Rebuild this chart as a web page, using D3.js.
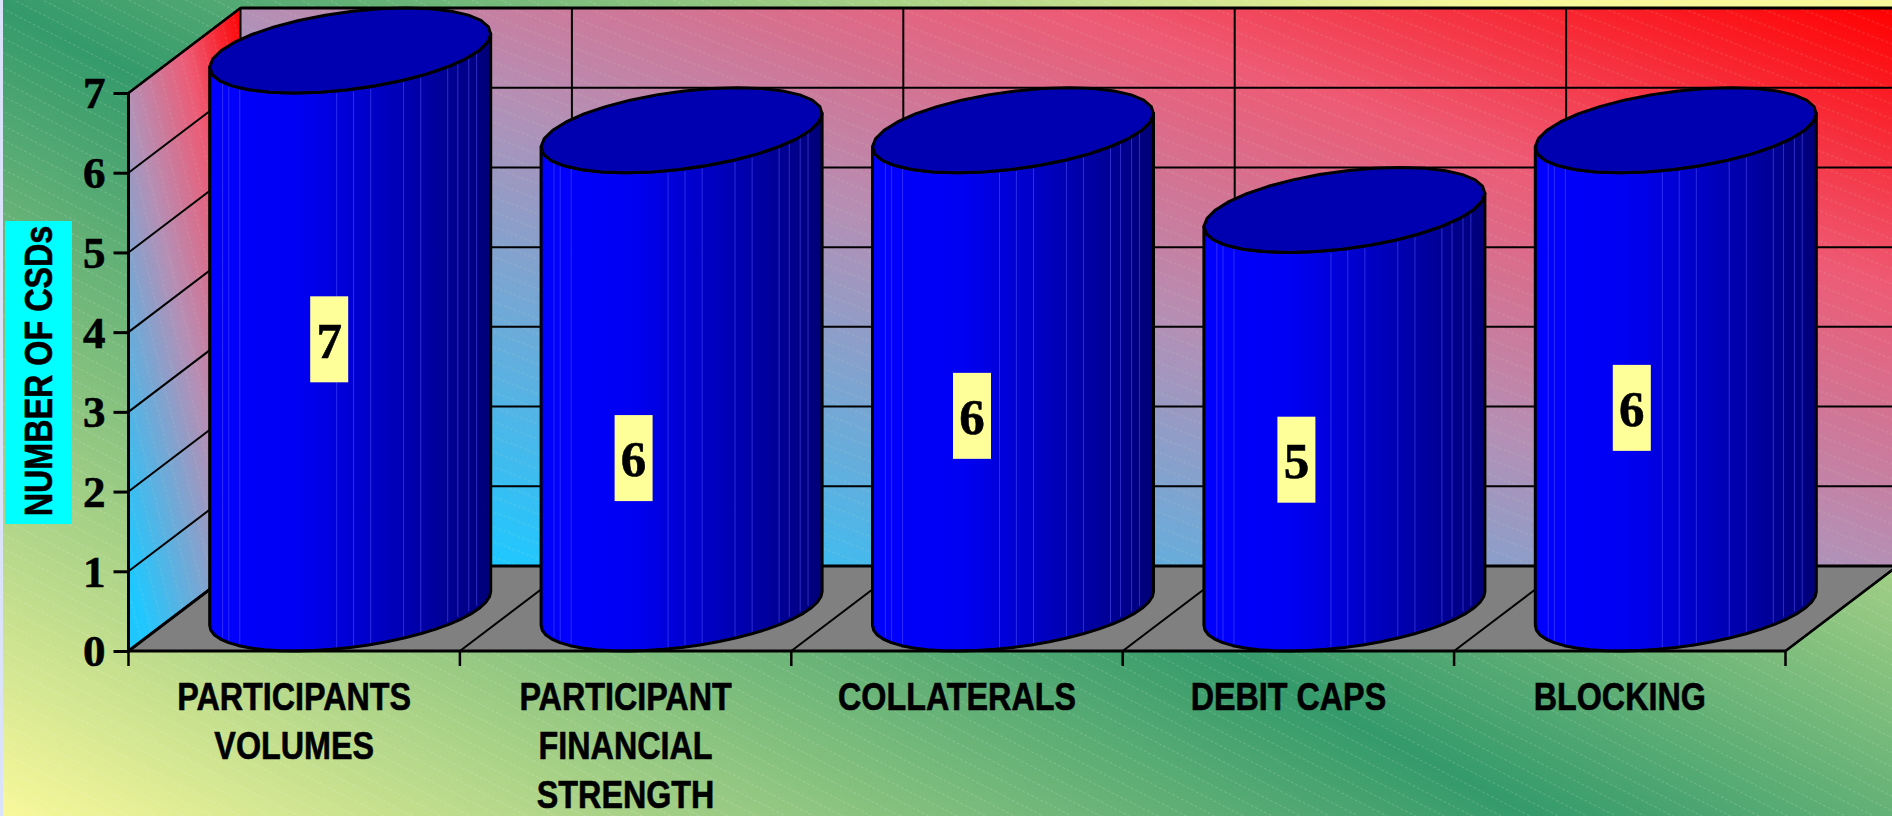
<!DOCTYPE html>
<html>
<head>
<meta charset="utf-8">
<script src="https://cdn.jsdelivr.net/npm/d3@7"></script>
<style>
html,body{margin:0;padding:0;background:#fff;overflow:hidden}
svg{display:block}
</style>
</head>
<body>
<script>
// ---------- data ----------
const categories = ["PARTICIPANTS VOLUMES","PARTICIPANT FINANCIAL STRENGTH","COLLATERALS","DEBIT CAPS","BLOCKING"];
const categoryLines = [["PARTICIPANTS","VOLUMES"],["PARTICIPANT","FINANCIAL","STRENGTH"],["COLLATERALS"],["DEBIT CAPS"],["BLOCKING"]];
const values = [7,6,6,5,6];
const yTicks = [0,1,2,3,4,5,6,7];
const yTitle = "NUMBER OF CSDs";
// where each value label sits: height on the value axis, and horizontal shift from the band centre
const labelHeights = [3.91,2.42,2.95,2.40,3.05];
const labelShifts = [-21,-48,-41,-48,-44];
// facet seams of the cylinder, as fractions of its visible width
const seams = [0.046,0.068,0.107,0.452,0.512,0.573,0.69,0.751,0.847,0.883,0.922,0.95];

// ---------- layout ----------
const W=1892,H=816;
const depthX=112, depthY=85;
const x=d3.scaleBand().domain(categories).range([128.5,1785.5]);
const y=d3.scaleLinear().domain([0,7]).range([651,93]);
const x0=x.range()[0], x1=x.range()[1], y0=y(0), y7=y(7);

const svg=d3.select("body").append("svg").attr("width",W).attr("height",H);
const defs=svg.append("defs");

function grad(id,a,b,stops){
  const g=defs.append("linearGradient").attr("id",id).attr("gradientUnits","userSpaceOnUse")
    .attr("x1",a[0]).attr("y1",a[1]).attr("x2",b[0]).attr("y2",b[1]);
  stops.forEach(s=>g.append("stop").attr("offset",s[0]).attr("stop-color",s[1]));
}
function hatch(id,angle,gap,colour,dash){
  const w=dash[0]+dash[1];
  const p=defs.append("pattern").attr("id",id).attr("patternUnits","userSpaceOnUse")
    .attr("width",w*4).attr("height",gap).attr("patternTransform",`rotate(${angle})`);
  p.append("line").attr("x1",0).attr("x2",w*4).attr("y1",gap/2).attr("y2",gap/2)
    .attr("stroke",colour).attr("stroke-width",1.1).attr("stroke-dasharray",dash.join(","));
}
const wallStops=[[0.08,"#1ec8ff"],[0.5,"#b58fb5"],[0.75,"#ee5a74"],[1,"#ff0000"]];
grad("bg",[-286,663],[378,-588],[[0,"#f8f89a"],[0.506,"#349a6b"],[1,"#f8f89a"]]);
grad("back",[897,787],[1235,-215],wallStops);
grad("left",[59,358],[309,300],wallStops);
hatch("hBg",27,13,"rgba(255,255,255,0.16)",[3,2]);
hatch("hBack",21,14,"rgba(215,235,190,0.18)",[3,2]);
hatch("hLeft",76,12,"rgba(215,235,190,0.16)",[3,2]);

// background
svg.append("rect").attr("width",W).attr("height",H).attr("fill","url(#bg)");
svg.append("rect").attr("width",W).attr("height",H).attr("fill","url(#hBg)");
svg.append("rect").attr("width",3).attr("height",H).attr("fill","#dbe3fb");

// walls and floor
const poly=pts=>"M"+pts.map(p=>p.join(",")).join("L")+"Z";
const backPts=[[x0+depthX,y7-depthY],[x1+depthX,y7-depthY],[x1+depthX,y0-depthY],[x0+depthX,y0-depthY]];
const leftPts=[[x0,y7],[x0+depthX,y7-depthY],[x0+depthX,y0-depthY],[x0,y0]];
const floorPts=[[x0,y0],[x1,y0],[x1+depthX,y0-depthY],[x0+depthX,y0-depthY]];
svg.append("path").attr("d",poly(backPts)).attr("fill","url(#back)");
svg.append("path").attr("d",poly(backPts)).attr("fill","url(#hBack)");
svg.append("path").attr("d",poly(leftPts)).attr("fill","url(#left)");
svg.append("path").attr("d",poly(leftPts)).attr("fill","url(#hLeft)");
svg.append("path").attr("d",poly(floorPts)).attr("fill","#808080");

// grid
const grid=svg.append("g").attr("stroke","#000").attr("fill","none").attr("stroke-width",2);
yTicks.forEach(t=>{
  const yy=y(t);
  grid.append("path").attr("d",`M${x0},${yy}L${x0+depthX},${yy-depthY}L${x1+depthX},${yy-depthY}`);
});
const edges=categories.map(c=>x(c)).concat([x1]);
edges.forEach(e=>{
  grid.append("path").attr("d",`M${e},${y0}L${e+depthX},${y0-depthY}L${e+depthX},${y7-depthY}`);
});
svg.append("path").attr("d",`M${x0+depthX},${y7-depthY}L${W+5},${y7-depthY}`).attr("stroke","#000").attr("stroke-width",3);
svg.append("path").attr("d",`M${x0},${y7}L${x0+depthX},${y7-depthY}`).attr("stroke","#000").attr("stroke-width",2.5);
svg.append("path").attr("d",`M${x0},${y0}L${x0+depthX},${y0-depthY}L${W+5},${y0-depthY}`).attr("stroke","#000").attr("stroke-width",3).attr("fill","none");
svg.append("path").attr("d",`M${x1},${y0}L${x1+depthX},${y0-depthY}`).attr("stroke","#000").attr("stroke-width",2.5);

// cylinders
const halfWidth=140.5, radX=Math.sqrt(halfWidth*halfWidth-(depthX/2)*(depthX/2)), skewX=depthX/2, radY=depthY/2;
defs.append("linearGradient").attr("id","body").attr("x1",0).attr("x2",1).attr("y1",0).attr("y2",0)
  .selectAll("stop").data([[0,"#0000ff"],[0.32,"#0000f2"],[0.55,"#0000cc"],[0.8,"#00009e"],[1,"#000078"]])
  .join("stop").attr("offset",d=>d[0]).attr("stop-color",d=>d[1]);

const ringAngles=d3.range(0,32).map(i=>i/32*2*Math.PI);
const ringPoint=(cx,cy,t)=>[cx+radX*Math.cos(t)+skewX*Math.sin(t), cy-radY*Math.sin(t)];
const tExtreme=Math.atan2(skewX,radX);
const openLine=d3.line();

categories.forEach((c,i)=>{
  const cx=x(c)+x.bandwidth()/2+depthX/2;
  const topY=y(values[i])-depthY/2, botY=y0-depthY/2;
  const g=svg.append("g").attr("class","cylinder");
  // front half of the silhouette, from the right extreme round the front to the left extreme
  const steps=d3.range(0,25).map(k=>tExtreme-k/24*Math.PI);
  const front=(cy)=>steps.map(t=>ringPoint(cx,cy,t));
  const botFront=front(botY), topFront=front(topY);
  const bodyPts=[...topFront].reverse().concat(botFront);
  g.append("path").attr("d",openLine(bodyPts)+"Z").attr("fill","url(#body)").attr("stroke","#000").attr("stroke-width",3).attr("stroke-linejoin","round");
  const left=cx-halfWidth;
  seams.forEach(s=>{
    const sx=left+s*2*halfWidth;
    const yAt=(cy)=>{
      const pts=front(cy);
      let best=pts[0];
      pts.forEach(p=>{if(Math.abs(p[0]-sx)<Math.abs(best[0]-sx))best=p;});
      return best[1];
    };
    g.append("line").attr("x1",sx).attr("x2",sx).attr("y1",yAt(topY)+2).attr("y2",yAt(botY)-2)
      .attr("stroke","#5a5aff").attr("stroke-opacity",0.5).attr("stroke-width",1);
  });
  g.append("path").attr("d",openLine(ringAngles.map(t=>ringPoint(cx,topY,t)))+"Z")
    .attr("fill","#0000b0").attr("stroke","#000").attr("stroke-width",3).attr("stroke-linejoin","round");
});

// axes
const yAxis=d3.axisLeft(y).tickValues(yTicks).tickSize(15).tickPadding(8).tickFormat(d3.format("d"));
const yg=svg.append("g").attr("transform",`translate(${x0},0)`).call(yAxis);
yg.select(".domain").attr("stroke","#000").attr("stroke-width",3).attr("d",`M0,${y7}L0,${y0}`);
yg.selectAll(".tick line").attr("stroke","#000").attr("stroke-width",3);
yg.selectAll(".tick text").attr("font-family","'Liberation Serif',serif").attr("font-weight","bold")
  .attr("font-size",45).attr("fill","#000").attr("stroke","#000").attr("stroke-width",0.6)
  .attr("dy","0.33em").attr("x",-23);

svg.append("line").attr("x1",x0).attr("x2",x1).attr("y1",y0).attr("y2",y0).attr("stroke","#000").attr("stroke-width",3);
svg.append("g").selectAll("line").data(edges).join("line")
  .attr("x1",d=>d).attr("x2",d=>d).attr("y1",y0).attr("y2",y0+15).attr("stroke","#000").attr("stroke-width",2.5);

// category labels
const squeeze=0.85;
categories.forEach((c,i)=>{
  categoryLines[i].forEach((t,k)=>{
    svg.append("text").text(t)
      .attr("transform",`translate(${x(c)+x.bandwidth()/2},${710+k*48.9}) scale(${squeeze},1)`)
      .attr("text-anchor","middle").attr("font-family","'Liberation Sans',Arial,sans-serif")
      .attr("font-weight","bold").attr("font-size",38).attr("fill","#000")
      .attr("stroke","#000").attr("stroke-width",0.6);
  });
});

// value labels
categories.forEach((c,i)=>{
  const lx=x(c)+x.bandwidth()/2+depthX/2+labelShifts[i], ly=y(labelHeights[i]);
  svg.append("rect").attr("x",lx-19).attr("y",ly-43).attr("width",38).attr("height",86).attr("fill","#ffff99");
  svg.append("text").text(values[i]).attr("x",lx).attr("y",ly).attr("dy","0.36em")
    .attr("text-anchor","middle").attr("font-family","'Liberation Serif',serif")
    .attr("font-weight","bold").attr("font-size",51).attr("fill","#000")
    .attr("stroke","#000").attr("stroke-width",0.6);
});

// y title
svg.append("rect").attr("x",5).attr("y",221).attr("width",67).attr("height",303).attr("fill","#00ffff");
svg.append("text").text(yTitle)
  .attr("transform",`translate(52,371) rotate(-90) scale(0.85,1)`)
  .attr("text-anchor","middle").attr("font-family","'Liberation Sans',Arial,sans-serif")
  .attr("font-weight","bold").attr("font-size",38).attr("fill","#000")
  .attr("stroke","#000").attr("stroke-width",0.6);
</script>
</body>
</html>
